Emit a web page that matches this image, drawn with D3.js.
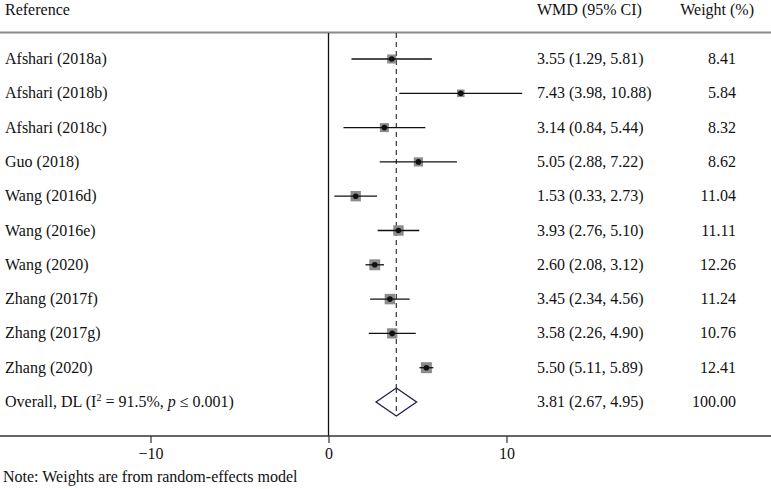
<!DOCTYPE html>
<html><head><meta charset="utf-8">
<script src="https://cdn.jsdelivr.net/npm/d3@7"></script>
<style>body{margin:0;background:#fff}text{font-family:"Liberation Serif","Times New Roman",serif;font-size:16px;fill:#111}</style>
</head><body><svg id="c" width="771" height="489"></svg>
<script>
const studies = ["Afshari (2018a)","Afshari (2018b)","Afshari (2018c)","Guo (2018)","Wang (2016d)","Wang (2016e)","Wang (2020)","Zhang (2017f)","Zhang (2017g)","Zhang (2020)"];
const wmd = [3.55,7.43,3.14,5.05,1.53,3.93,2.60,3.45,3.58,5.50];
const lower = [1.29,3.98,0.84,2.88,0.33,2.76,2.08,2.34,2.26,5.11];
const upper = [5.81,10.88,5.44,7.22,2.73,5.10,3.12,4.56,4.90,5.89];
const weights = [8.41,5.84,8.32,8.62,11.04,11.11,12.26,11.24,10.76,12.41];
const overall = {est:3.81, lo:2.67, hi:4.95, weight:100.00};
const xTicks = [-10,0,10];

const svg = d3.select("#c");
const x = d3.scaleLinear().domain([-10,10]).range([150.5,506.5]);
const rows = studies.map((s,i)=>i).concat([studies.length]);
const y = d3.scalePoint().domain(rows).range([59,402]);
const size = d3.scaleSqrt().domain([0,12.41]).range([0,11]);

// headers
svg.append("text").attr("x",5).attr("y",15).text("Reference");
svg.append("text").attr("x",537).attr("y",15).text("WMD (95% CI)");
svg.append("text").attr("x",754).attr("y",15).attr("text-anchor","end").text("Weight (%)");
svg.append("line").attr("x1",0).attr("x2",771).attr("y1",32.5).attr("y2",32.5).attr("stroke","#8a8a8a").attr("stroke-width",2);

// null line
svg.append("line").attr("x1",x(0)).attr("x2",x(0)).attr("y1",33).attr("y2",436).attr("stroke","#111").attr("stroke-width",1.3);
// overall dashed line
svg.append("line").attr("x1",x(overall.est)).attr("x2",x(overall.est)).attr("y1",33).attr("y2",y(studies.length)+15)
  .attr("stroke","#333").attr("stroke-width",1.2).attr("stroke-dasharray","5,4");

// axis
const axis = svg.append("g").attr("transform","translate(0,436)");
axis.append("line").attr("x1",0).attr("x2",771).attr("y1",0).attr("y2",0).attr("stroke","#333").attr("stroke-width",1.5);
axis.call(g=>{
  const ax = d3.axisBottom(x).tickValues(xTicks).tickSize(7).tickPadding(5).tickFormat(d=>d<0?"\u2212"+Math.abs(d):d);
  g.call(ax);
  g.select(".domain").remove();
  g.selectAll(".tick line").attr("stroke","#333").attr("stroke-width",1.2);
  g.selectAll(".tick text").style("font-family","Liberation Serif, serif").style("font-size","16px").attr("fill","#111");
});
svg.append("text").attr("x",3).attr("y",482).text("Note: Weights are from random-effects model");

// study rows
const fmt = d3.format(".2f");
studies.forEach((s,i)=>{
  const yy = y(i);
  svg.append("text").attr("x",5).attr("y",yy+5).text(s);
  const sz = size(weights[i]);
  svg.append("rect").attr("x",x(wmd[i])-sz/2).attr("y",yy-sz/2).attr("width",sz).attr("height",sz).attr("fill","#8c8c8c");
  svg.append("line").attr("x1",x(lower[i])).attr("x2",x(upper[i])).attr("y1",yy).attr("y2",yy).attr("stroke","#111").attr("stroke-width",1.3);
  svg.append("circle").attr("cx",x(wmd[i])).attr("cy",yy).attr("r",2.8).attr("fill","#111");
  svg.append("text").attr("x",537).attr("y",yy+5).text(`${fmt(wmd[i])} (${fmt(lower[i])}, ${fmt(upper[i])})`);
  svg.append("text").attr("x",736).attr("y",yy+5).attr("text-anchor","end").text(fmt(weights[i]));
});

// overall row
const yo = y(studies.length);
const ot = svg.append("text").attr("x",5).attr("y",yo+5);
ot.append("tspan").text("Overall, DL (I");
ot.append("tspan").attr("dy",-6).style("font-size","10px").text("2");
ot.append("tspan").attr("dy",6).text(" = 91.5%, ");
ot.append("tspan").style("font-style","italic").text("p");
ot.append("tspan").text(" \u2264 0.001)");
svg.append("path").attr("d",`M${x(overall.lo)},${yo} L${x(overall.est)},${yo-14} L${x(overall.hi)},${yo} L${x(overall.est)},${yo+14} Z`)
  .attr("fill","#fff").attr("stroke","#1f1f4a").attr("stroke-width",1.3);
svg.append("line").attr("x1",x(overall.est)).attr("x2",x(overall.est)).attr("y1",yo-14).attr("y2",yo+14)
  .attr("stroke","#333").attr("stroke-width",1.2).attr("stroke-dasharray","5,4");
svg.append("text").attr("x",537).attr("y",yo+5).text(`${fmt(overall.est)} (${fmt(overall.lo)}, ${fmt(overall.hi)})`);
svg.append("text").attr("x",736).attr("y",yo+5).attr("text-anchor","end").text(fmt(overall.weight));
</script></body></html>
